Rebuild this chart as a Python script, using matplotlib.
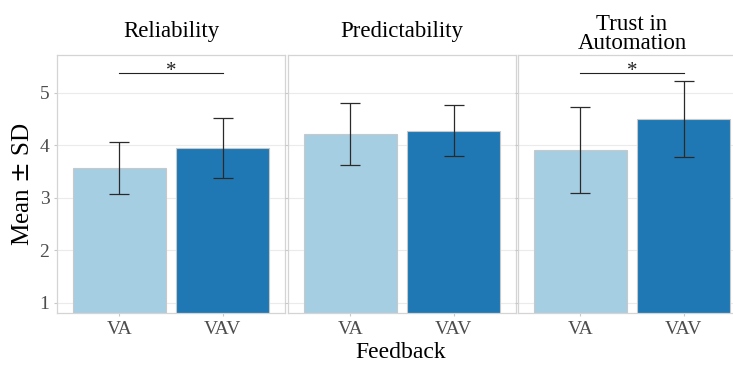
import numpy
import matplotlib
matplotlib.use('Agg')
import matplotlib.pyplot as plt

plt.rcParams['font.family'] = ['Liberation Serif', 'DejaVu Serif']

# data
measures = ['Reliability', 'Predictability', 'Trust in\nAutomation']
conditions = ['VA', 'VAV']
means_va = [3.56, 4.21, 3.91]
means_vav = [3.95, 4.28, 4.50]
sd_va = [0.50, 0.59, 0.82]
sd_vav = [0.57, 0.48, 0.73]
significant = [True, False, True]

bar_colors = ['#a6cee3', '#1f78b4']

fig = plt.figure(figsize=(7.33, 3.66), dpi=100)
W, H = 733, 366
panel_lefts = [57, 288, 518]
panel_width = 228
bottom, top = 313, 55

for i, measure in enumerate(measures):
    ax = fig.add_axes([panel_lefts[i] / W, 1 - bottom / H, panel_width / W, (bottom - top) / H])
    x = numpy.arange(1, len(conditions) + 1)
    means = [means_va[i], means_vav[i]]
    sds = [sd_va[i], sd_vav[i]]
    ax.bar(x, means, width=0.9, bottom=0, color=bar_colors, edgecolor='#c8c8c8', linewidth=0.8, zorder=2)
    ax.errorbar(x, means, yerr=sds, fmt='none', ecolor='#2a2a2a', elinewidth=0.9,
                capsize=7.5, capthick=0.9, zorder=3)
    if significant[i]:
        ax.plot([1, 2], [5.38, 5.38], color='#222222', lw=0.8, zorder=3)
        ax.text(1.5, 5.23, '*', ha='center', va='bottom', fontsize=15, color='#222222')
    ax.set_xlim(0.4, 2.6)
    ax.set_ylim(0.80, 5.72)
    ax.set_yticks([1, 2, 3, 4, 5])
    ax.set_xticks(x)
    ax.set_xticklabels(conditions)
    ax.grid(axis='y', color='#ebebeb', lw=0.8, zorder=0)
    ax.set_axisbelow(True)
    for s in ax.spines.values():
        s.set_color('#d4d4d4')
        s.set_linewidth(0.9)
    ax.tick_params(length=2.5, width=0.8, color='#c8c8c8', labelsize=14, labelcolor='#4d4d4d', pad=3)
    if i > 0:
        ax.tick_params(axis='y', labelleft=False)
    else:
        ax.set_ylabel('Mean $\\pm$ SD', fontsize=18)
        ax.yaxis.set_label_coords(-23 / panel_width, 0.5)
    ax.set_title(measure, fontsize=16.5, pad=13 if i < 2 else 4, linespacing=0.88)

fig.text(401 / W, 1 - 353 / H, 'Feedback', ha='center', va='center', fontsize=17)

fig.savefig('out.png', dpi=100)
